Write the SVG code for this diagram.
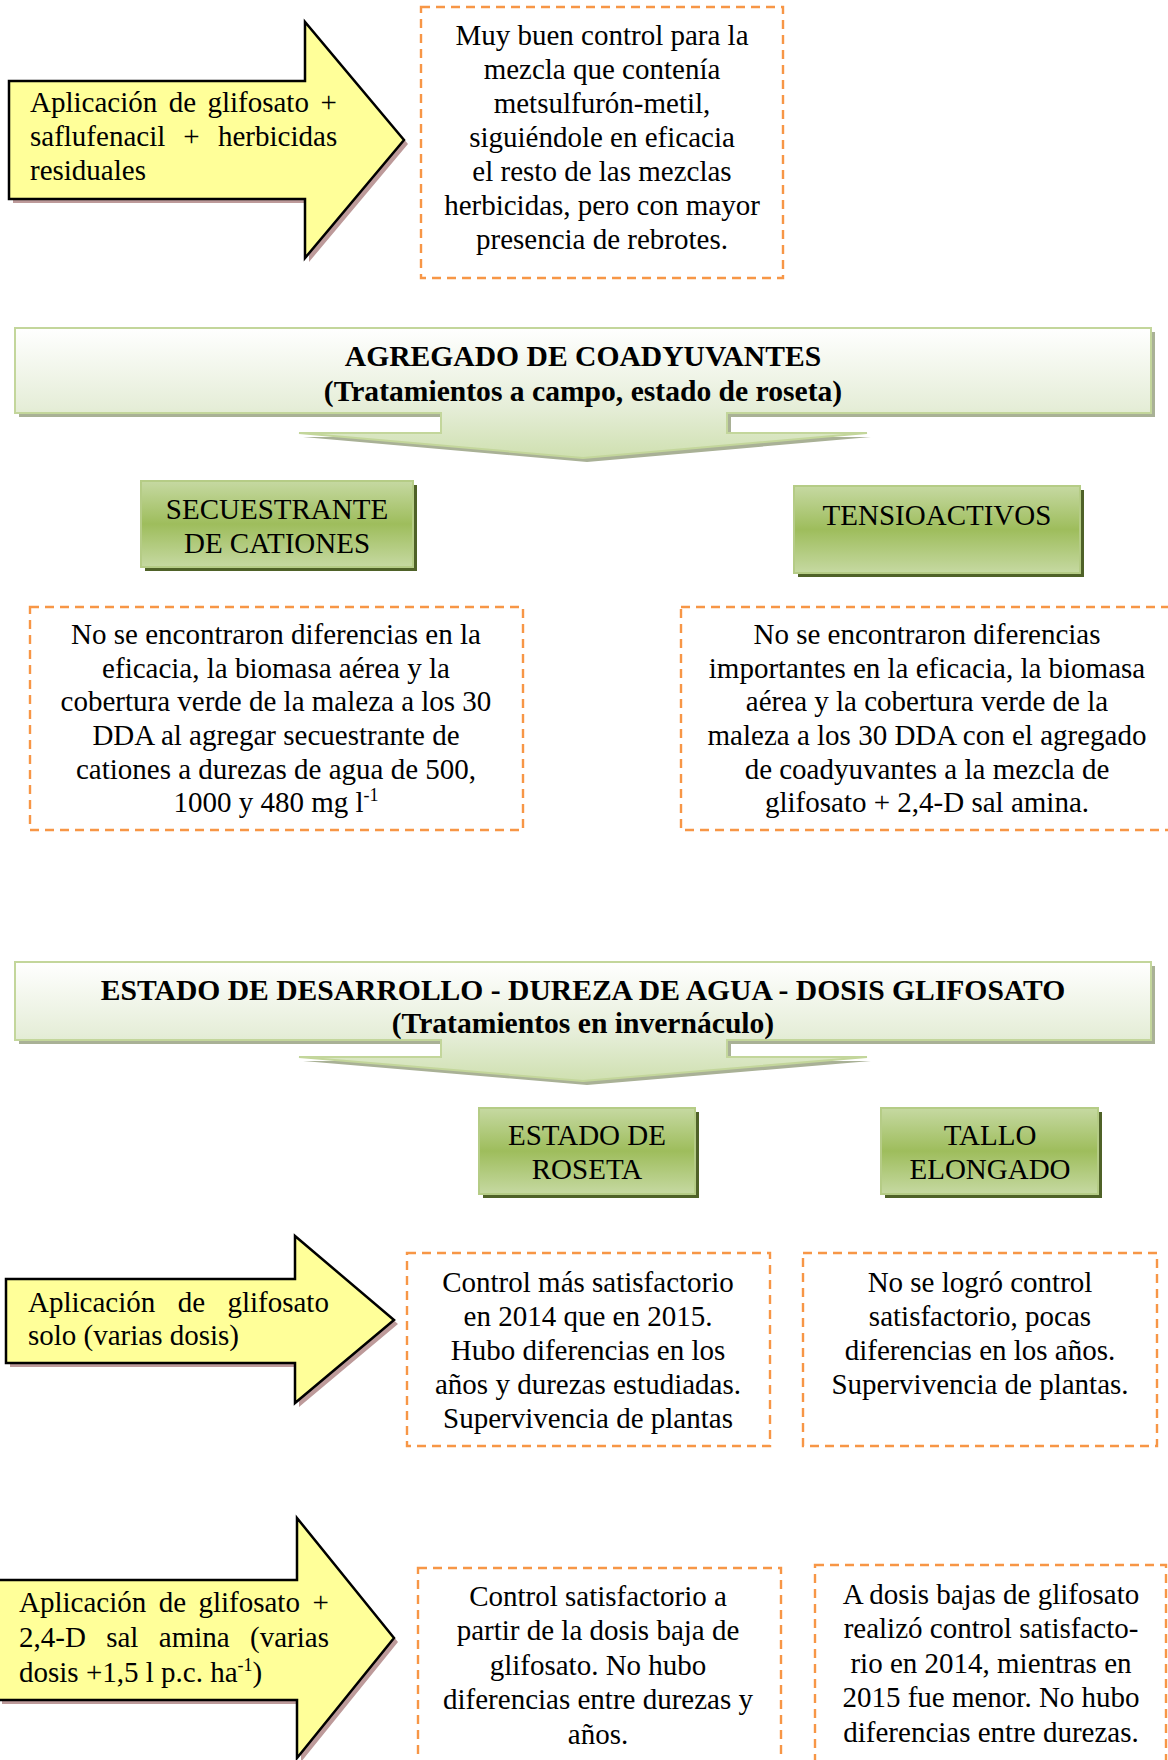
<svg xmlns="http://www.w3.org/2000/svg" width="1168" height="1760" viewBox="0 0 1168 1760">
<defs>
<linearGradient id="gBanner" x1="0" y1="0" x2="0" y2="1">
<stop offset="0" stop-color="#ffffff"/>
<stop offset="0.6" stop-color="#e6eed9"/>
<stop offset="1" stop-color="#cfe0b0"/>
</linearGradient>
<linearGradient id="gBox" x1="0" y1="0" x2="0" y2="1">
<stop offset="0" stop-color="#c6d9a2"/>
<stop offset="0.5" stop-color="#9ebd5c"/>
<stop offset="1" stop-color="#c6d9a2"/>
</linearGradient>
<style>
.t{font-family:"Liberation Serif","Times New Roman",serif;font-size:29px;fill:#000}
.c{text-anchor:middle}
.b{font-weight:bold;font-size:29.6px}
.dash{fill:none;stroke:#f79646;stroke-width:2.4;stroke-dasharray:9 6}
.yel{fill:#ffff99;stroke:#000;stroke-width:2.5;stroke-linejoin:miter}
.ysh{fill:#bd9a9a}
.ban{fill:url(#gBanner);stroke:#c3d69b;stroke-width:2}
.bsh{fill:#a9b196}
.gb{fill:url(#gBox);stroke:#b5cc86;stroke-width:2}
.gsh{fill:#4f6228}
.sup{font-size:18px}
</style>
</defs>

<g id="connectors"></g>

<!-- Arrow 1 -->
<g id="arrow1">
<path class="ysh" d="M13,85 H309 V26 L408,144 L309,262 V203 H13 Z"/>
<path class="yel" d="M9,81 H305 V22 L404,140 L305,258 V199 H9 Z"/>
<text class="t" y="112"><tspan x="30">Aplicación</tspan><tspan x="168.7">de</tspan><tspan x="207.4">glifosato</tspan><tspan x="320.6">+</tspan></text>
<text class="t" y="146"><tspan x="30">saflufenacil</tspan><tspan x="183.3">+</tspan><tspan x="218">herbicidas</tspan></text>
<text class="t" x="30" y="180">residuales</text>
</g>

<g id="box1">
<rect class="dash" x="421" y="7" width="362" height="271"/>
<text class="t c" x="602" y="45">Muy buen control para la</text>
<text class="t c" x="602" y="79">mezcla que contenía</text>
<text class="t c" x="602" y="113">metsulfurón-metil,</text>
<text class="t c" x="602" y="147">siguiéndole en eficacia</text>
<text class="t c" x="602" y="181">el resto de las mezclas</text>
<text class="t c" x="602" y="215">herbicidas, pero con mayor</text>
<text class="t c" x="602" y="249">presencia de rebrotes.</text>
</g>

<!-- Banner 1 -->
<g id="banner1">
<path class="bsh" d="M19,332 H1155 V417 H731 V437 H871 L587,462 L303,437 H445 V417 H19 Z"/>
<path class="ban" d="M15,328 H1151 V413 H727 V433 H867 L583,458 L299,433 H441 V413 H15 Z"/>
<text class="t c b" x="583" y="366">AGREGADO DE COADYUVANTES</text>
<text class="t c b" x="583" y="401">(Tratamientos a campo, estado de roseta)</text>
</g>

<g id="secuestrante">
<rect class="gsh" x="145" y="485" width="272" height="86"/>
<rect class="gb" x="141" y="481" width="272" height="86"/>
<text class="t c" x="277" y="519">SECUESTRANTE</text>
<text class="t c" x="277" y="553">DE CATIONES</text>
</g>

<g id="tensioactivos">
<rect class="gsh" x="798" y="490" width="286" height="87"/>
<rect class="gb" x="794" y="486" width="286" height="87"/>
<text class="t c" x="937" y="525">TENSIOACTIVOS</text>
</g>

<g id="box2">
<rect class="dash" x="30" y="607" width="493" height="223"/>
<text class="t c" x="276" y="644">No se encontraron diferencias en la</text>
<text class="t c" x="276" y="678">eficacia, la biomasa aérea y la</text>
<text class="t c" x="276" y="711">cobertura verde de la maleza a los 30</text>
<text class="t c" x="276" y="745">DDA al agregar secuestrante de</text>
<text class="t c" x="276" y="779">cationes a durezas de agua de 500,</text>
<text class="t c" x="276" y="812">1000 y 480 mg l<tspan class="sup" dy="-11">-1</tspan></text>
</g>

<g id="box3">
<rect class="dash" x="681" y="607" width="495" height="223"/>
<text class="t c" x="927" y="644">No se encontraron diferencias</text>
<text class="t c" x="927" y="678">importantes en la eficacia, la biomasa</text>
<text class="t c" x="927" y="711">aérea y la cobertura verde de la</text>
<text class="t c" x="927" y="745">maleza a los 30 DDA con el agregado</text>
<text class="t c" x="927" y="779">de coadyuvantes a la mezcla de</text>
<text class="t c" x="927" y="812">glifosato + 2,4-D sal amina.</text>
</g>

<!-- Banner 2 -->
<g id="banner2">
<path class="bsh" d="M19,966 H1155 V1044 H731 V1061 H871 L587,1085 L303,1061 H445 V1044 H19 Z"/>
<path class="ban" d="M15,962 H1151 V1040 H727 V1057 H867 L583,1081 L299,1057 H441 V1040 H15 Z"/>
<text class="t c b" x="583" y="1000">ESTADO DE DESARROLLO - DUREZA DE AGUA - DOSIS GLIFOSATO</text>
<text class="t c b" x="583" y="1033">(Tratamientos en invernáculo)</text>
</g>

<g id="roseta">
<rect class="gsh" x="483" y="1112" width="216" height="86"/>
<rect class="gb" x="479" y="1108" width="216" height="86"/>
<text class="t c" x="587" y="1145">ESTADO DE</text>
<text class="t c" x="587" y="1179">ROSETA</text>
</g>

<g id="tallo">
<rect class="gsh" x="885" y="1112" width="217" height="86"/>
<rect class="gb" x="881" y="1108" width="217" height="86"/>
<text class="t c" x="990" y="1145">TALLO</text>
<text class="t c" x="990" y="1179">ELONGADO</text>
</g>

<!-- Arrow 2 -->
<g id="arrow2">
<path class="ysh" d="M10,1283 H299 V1240 L398,1324 L299,1407 V1367 H10 Z"/>
<path class="yel" d="M6,1279 H295 V1236 L394,1320 L295,1403 V1363 H6 Z"/>
<text class="t" y="1312"><tspan x="28">Aplicación</tspan><tspan x="177.7">de</tspan><tspan x="227.4">glifosato</tspan></text>
<text class="t" x="28" y="1345">solo (varias dosis)</text>
</g>

<g id="box4">
<rect class="dash" x="407" y="1253" width="363" height="193"/>
<text class="t c" x="588" y="1292">Control más satisfactorio</text>
<text class="t c" x="588" y="1326">en 2014 que en 2015.</text>
<text class="t c" x="588" y="1360">Hubo diferencias en los</text>
<text class="t c" x="588" y="1394">años y durezas estudiadas.</text>
<text class="t c" x="588" y="1428">Supervivencia de plantas</text>
</g>

<g id="box5">
<rect class="dash" x="803" y="1253" width="354" height="193"/>
<text class="t c" x="980" y="1292">No se logró control</text>
<text class="t c" x="980" y="1326">satisfactorio, pocas</text>
<text class="t c" x="980" y="1360">diferencias en los años.</text>
<text class="t c" x="980" y="1394">Supervivencia de plantas.</text>
</g>

<!-- Arrow 3 -->
<g id="arrow3">
<path class="ysh" d="M2,1584 H301 V1522 L398,1642 L301,1762 V1704 H2 Z"/>
<path class="yel" d="M-2,1580 H297 V1518 L394,1638 L297,1758 V1700 H-2 Z"/>
<text class="t" y="1612"><tspan x="19">Aplicación</tspan><tspan x="158.7">de</tspan><tspan x="198.4">glifosato</tspan><tspan x="312.6">+</tspan></text>
<text class="t" y="1647"><tspan x="19">2,4-D</tspan><tspan x="106.2">sal</tspan><tspan x="158.8">amina</tspan><tspan x="250.1">(varias</tspan></text>
<text class="t" x="19" y="1682">dosis +1,5 l p.c. ha<tspan class="sup" dy="-11">-1</tspan><tspan dy="11">)</tspan></text>
</g>

<g id="box6">
<rect class="dash" x="418" y="1568" width="363" height="210"/>
<text class="t c" x="598" y="1606">Control satisfactorio a</text>
<text class="t c" x="598" y="1640">partir de la dosis baja de</text>
<text class="t c" x="598" y="1675">glifosato. No hubo</text>
<text class="t c" x="598" y="1709">diferencias entre durezas y</text>
<text class="t c" x="598" y="1744">años.</text>
</g>

<g id="box7">
<rect class="dash" x="815" y="1565" width="351" height="213"/>
<text class="t c" x="991" y="1604">A dosis bajas de glifosato</text>
<text class="t c" x="991" y="1638">realizó control satisfacto-</text>
<text class="t c" x="991" y="1673">rio en 2014, mientras en</text>
<text class="t c" x="991" y="1707">2015 fue menor. No hubo</text>
<text class="t c" x="991" y="1742">diferencias entre durezas.</text>
</g>
</svg>
